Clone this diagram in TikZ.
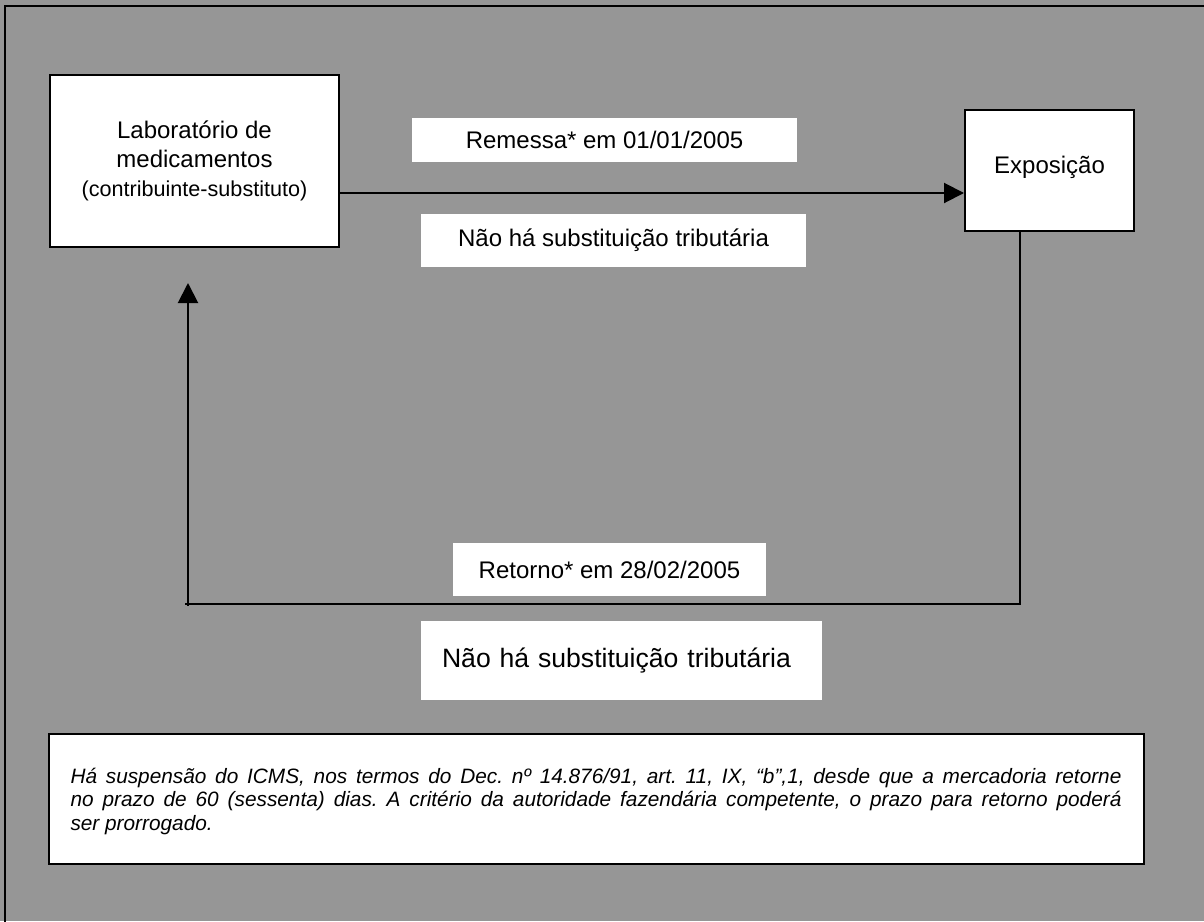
\documentclass[tikz,border=0pt]{standalone}
\usepackage{fontspec}
\setmainfont{Liberation Sans}
\usetikzlibrary{arrows.meta}
\definecolor{panel}{RGB}{150,150,150}
\frenchspacing
\tikzset{
  box/.style={draw=black, line width=1pt, fill=white, inner sep=0pt, align=center},
  label/.style={fill=white, inner sep=0pt, align=center, font=\fontsize{12}{14}\selectfont},
  wire/.style={line width=1pt, draw=black},
  arrowtip/.style={-{Triangle[length=10pt,width=10pt]}}
}
\begin{document}
\begin{tikzpicture}[x=0.5pt, y=-0.5pt]
  % canvas and outer frame
  \useasboundingbox (0,0) rectangle (1204,921);
  \fill[panel] (0,0) rectangle (1204,921);
  \draw[line width=1pt] (5,925) -- (5,6) -- (1210,6);

  % main boxes
  \node[box, minimum width=144.5pt, minimum height=86pt, font=\fontsize{12}{14.5}\selectfont] (lab) at (194.5,161)
    {Laborat\'orio de\\
     medicamentos\\
     {\fontsize{10.8}{14.5}\selectfont (contribuinte-substituto)}};
  \node[box, minimum width=84.5pt, minimum height=60.5pt, font=\fontsize{12}{14}\selectfont] (expo) at (1049.5,170.5)
    {\raisebox{5.5pt}{Exposi\c{c}\~ao}};

  % labels on the connectors
  \node[label, minimum width=192.5pt, minimum height=22pt] (remessa) at (604.5,140) {Remessa* em 01/01/2005};
  \node[label, minimum width=192.5pt, minimum height=26.5pt] (naoA) at (613.5,240.5) {N\~ao h\'a substitui\c{c}\~ao tribut\'aria};
  \node[label, minimum width=156.5pt, minimum height=26.5pt] (retorno) at (609.5,569.5) {Retorno* em 28/02/2005};
  \node[fill=white, inner xsep=10.5pt, inner ysep=0pt, minimum height=39.5pt,
        text width=179.5pt, align=left, font=\fontsize{13.3}{16}\selectfont] (naoB) at (621.5,660.5)
        {N\~ao h\'a substitui\c{c}\~ao tribut\'aria};

  % note box
  \node[box, minimum width=546pt, minimum height=65pt, inner xsep=11pt, text width=525.5pt,
        align=justify, font=\fontsize{10.4}{11.75}\selectfont\itshape] (nota) at (596,799)
    {\rule{0pt}{10pt}H\'a suspens\~ao do ICMS, nos termos do Dec. n\textordmasculine{} 14.876/91, art. 11, IX, \char"201C b\char"201D,1, desde que a mercadoria retorne\linebreak
     no prazo de 60 (sessenta) dias. A crit\'erio da autoridade fazend\'aria competente, o prazo para retorno poder\'a\linebreak
     ser prorrogado.};

  % connector coordinates
  \coordinate (ida) at (341,193);
  \coordinate (cantoD) at (1020,604);
  \coordinate (cantoE) at (185,604);
  \coordinate (baseE) at (188,606);
  \coordinate (ponta) at (188,283);

  % remessa: laboratory to exposition
  \draw[wire, arrowtip] (lab.east |- ida) -- (expo.west |- ida);
  % retorno: exposition back to the laboratory
  \draw[wire] (expo.south -| cantoD) -- (cantoD) -- (cantoE);
  \draw[wire, arrowtip] (baseE) -- (ponta);
\end{tikzpicture}
\end{document}
